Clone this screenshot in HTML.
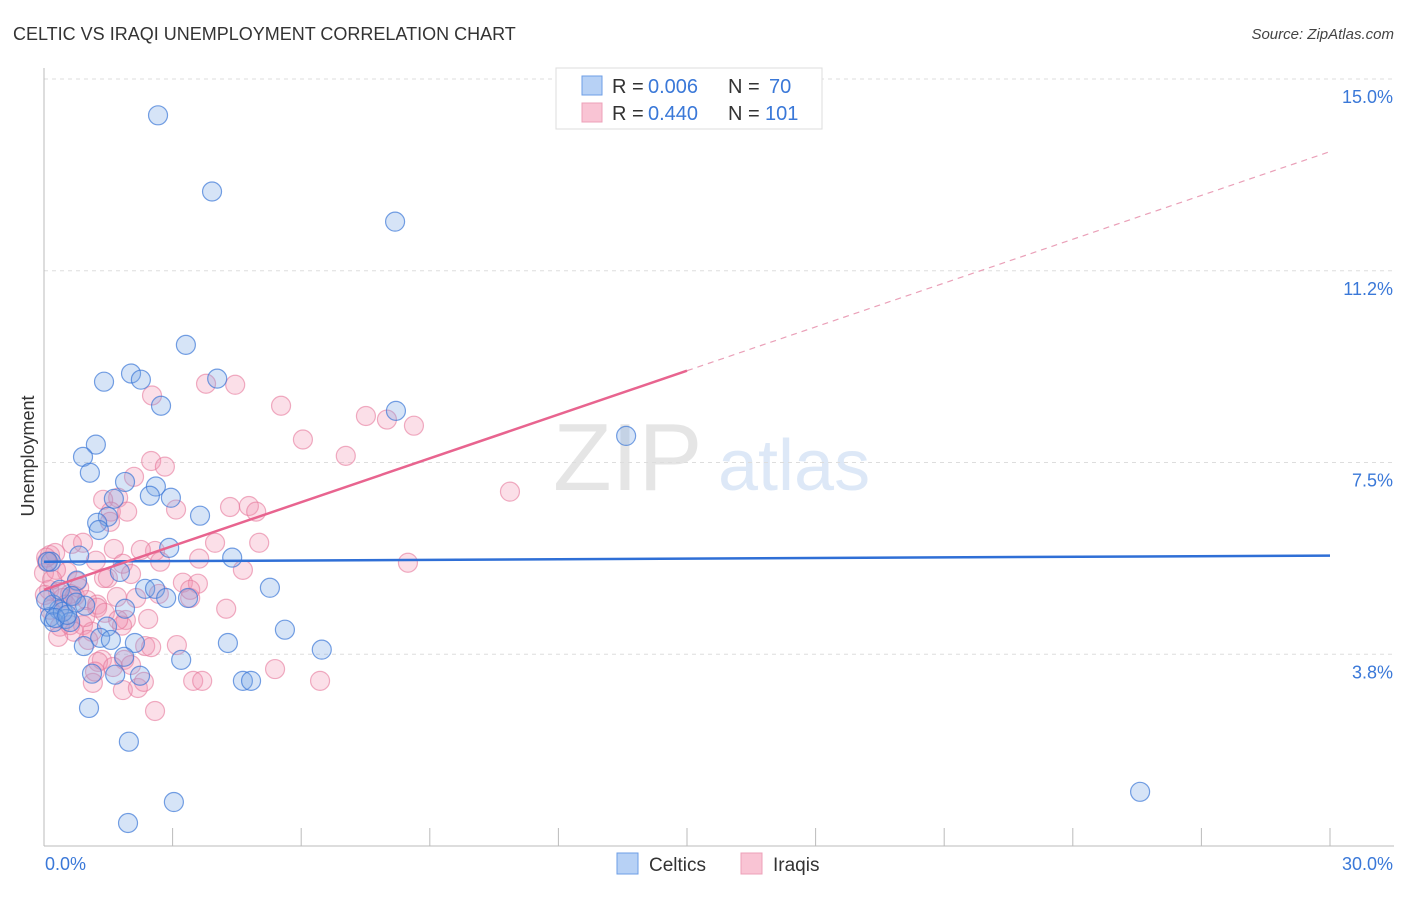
<!DOCTYPE html>
<html><head><meta charset="utf-8"><style>
body{margin:0;background:#fff;font-family:"Liberation Sans",sans-serif}
svg text{font-family:"Liberation Sans",sans-serif}
</style></head><body>
<svg id="chart" width="1406" height="892" xmlns="http://www.w3.org/2000/svg">
<text x="13" y="40" font-size="18" fill="#333">CELTIC VS IRAQI UNEMPLOYMENT CORRELATION CHART</text>
<text x="1394" y="39" font-size="15" fill="#444" font-style="italic" text-anchor="end">Source: ZipAtlas.com</text>
<g opacity="0.25">
<text x="553" y="490" font-size="96" font-family="Liberation Serif" fill="#999">ZIP</text>
<text x="718" y="490" font-size="72" fill="#7aa7e0">atlas</text>
</g>
<g id="grid"></g>
<g id="axes"></g>
<g id="pts"></g>
<g id="trends"></g>
<text transform="translate(34,456) rotate(-90)" font-size="18" fill="#333" text-anchor="middle">Unemployment</text>
<g font-size="20">
<rect x="556" y="68" width="266" height="61" fill="#fff" stroke="#ddd"/>
<rect x="582" y="76" width="20" height="19" fill="#b7d1f5" stroke="#6d9ee6"/>
<rect x="582" y="103" width="20" height="19" fill="#f9c4d4" stroke="#eda0b8"/>
<text x="612" y="93" fill="#333">R =</text>
<text x="648" y="93" fill="#3a78d8">0.006</text>
<text x="728" y="93" fill="#333">N =</text>
<text x="769" y="93" fill="#3a78d8">70</text>
<text x="612" y="120" fill="#333">R =</text>
<text x="648" y="120" fill="#3a78d8">0.440</text>
<text x="728" y="120" fill="#333">N =</text>
<text x="765" y="120" fill="#3a78d8">101</text>
</g>
<g>
<rect x="617" y="853" width="21" height="21" fill="#b7d1f5" stroke="#6d9ee6"/>
<text x="649" y="871" font-size="19" fill="#333">Celtics</text>
<rect x="741" y="853" width="21" height="21" fill="#f9c4d4" stroke="#eda0b8"/>
<text x="773" y="871" font-size="19" fill="#333">Iraqis</text>
</g>
</svg>
<script>
const yTicks=[3.75,7.5,11.25,15];
const yTickLabels=["3.8%","7.5%","11.2%","15.0%"];
const xTicks=[0,3,6,9,12,15,18,21,24,27,30];
const celticsX=[2.66,3.92,8.19,3.31,1.40,2.03,2.26,4.04,2.73,8.21,13.58,1.21,0.91,1.07,1.89,2.61,2.47,2.96,1.63,1.49,3.64,1.24,1.28,2.92,0.82,4.39,0.16,1.77,0.77,2.36,2.59,5.27,2.85,3.36,1.89,0.96,0.35,0.14,0.51,0.23,0.61,1.47,5.62,1.31,1.56,2.12,4.29,0.93,6.48,1.87,3.20,1.12,1.66,2.24,4.64,4.83,1.05,1.98,3.03,1.96,25.57,0.21,0.44,0.05,0.37,0.65,0.26,0.09,0.54,0.75];
const celticsY=[14.29,12.80,12.21,9.80,9.08,9.24,9.12,9.14,8.61,8.51,8.02,7.85,7.61,7.30,7.12,7.03,6.85,6.81,6.79,6.44,6.46,6.32,6.18,5.83,5.68,5.64,5.56,5.36,5.19,5.03,5.03,5.05,4.85,4.85,4.64,4.70,4.62,4.48,4.44,4.38,4.38,4.29,4.23,4.07,4.03,3.97,3.97,3.91,3.84,3.70,3.64,3.37,3.35,3.33,3.23,3.23,2.70,2.04,0.86,0.45,1.06,4.72,4.58,4.81,5.01,4.89,4.46,5.56,4.52,4.76];
const iraqisX=[2.52,3.78,4.46,5.53,7.51,8.00,8.63,6.04,7.04,10.87,2.50,2.82,2.10,1.73,1.38,1.56,1.94,3.08,4.34,4.78,4.95,1.54,5.02,3.99,2.59,2.26,1.63,0.91,0.65,0.14,0.26,0.00,2.71,1.84,3.62,8.49,1.21,0.07,0.54,2.03,1.49,1.40,0.77,3.24,3.59,4.64,0.28,0.12,0.33,0.61,0.44,0.72,1.00,1.24,1.24,1.70,2.15,2.68,3.41,1.42,1.91,2.43,1.82,0.91,0.70,0.37,1.12,1.03,0.33,4.25,2.36,2.50,3.10,1.35,1.26,1.87,1.61,2.03,1.14,1.19,1.84,2.19,2.33,3.48,3.69,5.39,6.44,2.59,0.19,0.02,0.51,0.82,3.41,0.05,0.14,0.61,0.96,1.73];
const iraqisY=[8.81,9.04,9.02,8.61,8.41,8.34,8.22,7.95,7.63,6.93,7.53,7.42,7.22,6.81,6.77,6.54,6.54,6.58,6.63,6.65,6.54,6.34,5.93,5.93,5.77,5.79,5.81,5.93,5.91,5.69,5.73,5.34,5.56,5.52,5.62,5.54,5.58,5.56,5.36,5.32,5.24,5.24,5.17,5.15,5.13,5.40,5.40,5.01,4.97,4.93,4.85,4.89,4.81,4.72,4.66,4.87,4.85,4.93,4.85,4.56,4.42,4.44,4.31,4.32,4.19,4.29,4.19,4.03,4.09,4.64,3.91,3.89,3.93,3.64,3.60,3.64,3.50,3.54,3.19,3.41,3.05,3.09,3.21,3.23,3.23,3.46,3.23,2.64,5.21,4.91,4.72,5.05,5.01,5.64,4.62,4.32,4.48,4.42];
const celticsTrend=[5.56,5.68];
const iraqisTrend=[5.01,13.58];
const iraqisSolidEnd=15;

const X0=44,X1=1330,Y0=846,YT=79;
const sx=v=>X0+(v/30)*(X1-X0);
const sy=v=>Y0-(v/15)*(Y0-YT);
const NS="http://www.w3.org/2000/svg";
function mk(tag,attrs,parent){const e=document.createElementNS(NS,tag);for(const k in attrs)e.setAttribute(k,attrs[k]);parent.appendChild(e);return e;}
const grid=document.getElementById('grid'),axes=document.getElementById('axes'),pts=document.getElementById('pts'),tr=document.getElementById('trends');
yTicks.forEach((t,i)=>{
  const l=mk('line',{x1:X0,x2:1394,y1:sy(t),y2:sy(t),stroke:'#ddd','stroke-dasharray':'4,4'},grid);
  
  
  const tx=mk('text',{x:1393,y:sy(t)+24,'font-size':18,fill:'#3a78d8','text-anchor':'end'},axes);
  tx.textContent=yTickLabels[i];
  
  
});
const ya=mk('line',{x1:X0,x2:X0,y1:68,y2:Y0,stroke:'#bbb'},axes);


const xa=mk('line',{x1:X0,x2:1394,y1:Y0,y2:Y0,stroke:'#bbb'},axes);


xTicks.forEach(t=>{
  const l=mk('line',{x1:sx(t),x2:sx(t),y1:Y0,y2:Y0-18,stroke:'#bbb'},axes);
  
  
});
const xl0=mk('text',{x:45,y:870,'font-size':18,fill:'#3a78d8'},axes);xl0.textContent='0.0%';


const xl1=mk('text',{x:1393,y:870,'font-size':18,fill:'#3a78d8','text-anchor':'end'},axes);xl1.textContent='30.0%';


iraqisX.forEach((x,i)=>{
  const c=mk('circle',{cx:sx(x),cy:sy(iraqisY[i]),r:9.5,fill:'rgba(242,150,180,0.3)',stroke:'rgba(230,120,155,0.6)','stroke-width':1.2},pts);
  
  
});
celticsX.forEach((x,i)=>{
  const c=mk('circle',{cx:sx(x),cy:sy(celticsY[i]),r:9.5,fill:'rgba(120,165,230,0.3)',stroke:'rgba(60,120,215,0.7)','stroke-width':1.2},pts);
  
  
});
const bt=mk('line',{x1:sx(0),y1:sy(celticsTrend[0]),x2:sx(30),y2:sy(celticsTrend[1]),stroke:'#2f6fd6','stroke-width':2.5},tr);


const iy=x=>iraqisTrend[0]+(iraqisTrend[1]-iraqisTrend[0])*x/30;
const pt=mk('line',{x1:sx(0),y1:sy(iy(0)),x2:sx(iraqisSolidEnd),y2:sy(iy(iraqisSolidEnd)),stroke:'#e8648f','stroke-width':2.5},tr);


const pd=mk('line',{x1:sx(iraqisSolidEnd),y1:sy(iy(iraqisSolidEnd)),x2:sx(30),y2:sy(iy(30)),stroke:'#eaa0b8','stroke-width':1.2,'stroke-dasharray':'6,5'},tr);


</script>
</body></html>
